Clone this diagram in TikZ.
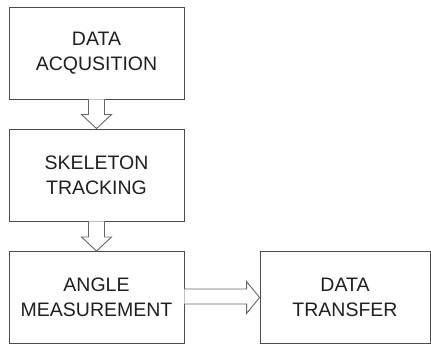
\documentclass[tikz,border=0pt]{standalone}
\usepackage{fontspec}
\setmainfont{Liberation Sans}
\usetikzlibrary{calc}
\begin{document}
\begin{tikzpicture}[x=1pt,y=1pt,
  box/.style={draw=black!70, line width=0.9pt, minimum width=175pt, minimum height=92pt,
    inner sep=0pt, align=center, text=black!88,
    font=\fontsize{19.5}{25}\selectfont},
  hollow/.style={draw=black!60, line width=0.9pt, fill=white, line join=miter}]
\useasboundingbox (0,0) rectangle (431,345);
\node[box] (a) at (96.5,292) {DATA\\ACQUSITION};
\node[box] (b) at (96.5,170) {SKELETON\\TRACKING};
\node[box] (c) at (96.5,47.5) {ANGLE\\MEASUREMENT};
\node[box, minimum width=170pt] (d) at (345,47.5) {DATA\\TRANSFER};
\draw[hollow] ($(a.south)+(-8,0)$) -- ($(b.north)+(-8,14)$) -- ($(b.north)+(-15,14)$) -- (b.north)
  -- ($(b.north)+(15,14)$) -- ($(b.north)+(8,14)$) -- ($(a.south)+(8,0)$);
\draw[hollow] ($(b.south)+(-8,0)$) -- ($(c.north)+(-8,14)$) -- ($(c.north)+(-15,14)$) -- (c.north)
  -- ($(c.north)+(15,14)$) -- ($(c.north)+(8,14)$) -- ($(b.south)+(8,0)$);
\draw[hollow] ($(c.east)+(0,8.5)$) -- ($(d.west)+(-13,8.5)$) -- ($(d.west)+(-13,16)$) -- (d.west)
  -- ($(d.west)+(-13,-16)$) -- ($(d.west)+(-13,-6.5)$) -- ($(c.east)+(0,-6.5)$);
\end{tikzpicture}
\end{document}
